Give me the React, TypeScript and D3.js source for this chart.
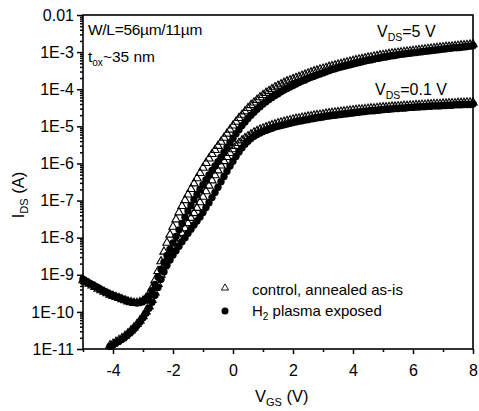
import React, { useEffect, useRef } from "react";
import * as d3 from "d3";

// gate sweep (V)
const vgsStart5V = -5.0;
const vgsStart01V = -4.1;
const vgsStep = 0.1;

// log10(I_DS / A), V_DS = 5 V, control annealed as-is (triangles)
const ctrl5V = [
  -9.15, -9.20, -9.24, -9.29, -9.33, -9.38, -9.42, -9.46, -9.50, -9.54,
  -9.57, -9.60, -9.63, -9.66, -9.69, -9.72, -9.74, -9.76, -9.76, -9.74,
  -9.70, -9.63, -9.52, -9.36, -9.15, -8.90, -8.64, -8.38, -8.14, -7.92,
  -7.71, -7.51, -7.32, -7.15, -6.99, -6.84, -6.69, -6.54, -6.40, -6.26,
  -6.12, -5.99, -5.87, -5.75, -5.64, -5.53, -5.42, -5.31, -5.20, -5.09,
  -4.98, -4.88, -4.78, -4.69, -4.60, -4.51, -4.43, -4.36, -4.29, -4.22,
  -4.16, -4.10, -4.05, -4.00, -3.95, -3.91, -3.87, -3.83, -3.79, -3.76,
  -3.73, -3.70, -3.67, -3.64, -3.61, -3.58, -3.55, -3.52, -3.50, -3.47,
  -3.45, -3.43, -3.40, -3.38, -3.36, -3.34, -3.32, -3.30, -3.28, -3.26,
  -3.24, -3.22, -3.20, -3.19, -3.17, -3.15, -3.14, -3.12, -3.11, -3.09,
  -3.08, -3.07, -3.05, -3.04, -3.03, -3.02, -3.01, -3.00, -2.99, -2.98,
  -2.97, -2.96, -2.95, -2.94, -2.93, -2.92, -2.91, -2.90, -2.89, -2.88,
  -2.87, -2.86, -2.86, -2.85, -2.84, -2.83, -2.82, -2.82, -2.81, -2.80,
  -2.79,
];

// V_DS = 5 V, H2 plasma exposed (circles)
const h2_5V = [
  -9.12, -9.17, -9.22, -9.26, -9.31, -9.35, -9.40, -9.44, -9.48, -9.52,
  -9.56, -9.59, -9.62, -9.65, -9.68, -9.71, -9.73, -9.75, -9.76, -9.75,
  -9.72, -9.66, -9.57, -9.43, -9.26, -9.06, -8.85, -8.66, -8.48, -8.31,
  -8.14, -7.97, -7.79, -7.62, -7.45, -7.28, -7.13, -6.98, -6.84, -6.70,
  -6.57, -6.44, -6.31, -6.19, -6.07, -5.95, -5.83, -5.70, -5.57, -5.44,
  -5.32, -5.20, -5.09, -4.98, -4.88, -4.79, -4.70, -4.62, -4.54, -4.47,
  -4.40, -4.34, -4.28, -4.22, -4.17, -4.12, -4.07, -4.02, -3.98, -3.94,
  -3.90, -3.86, -3.82, -3.78, -3.75, -3.71, -3.68, -3.65, -3.62, -3.59,
  -3.56, -3.53, -3.50, -3.47, -3.45, -3.42, -3.40, -3.38, -3.36, -3.34,
  -3.32, -3.30, -3.28, -3.26, -3.24, -3.22, -3.21, -3.19, -3.17, -3.16,
  -3.14, -3.13, -3.11, -3.10, -3.09, -3.07, -3.06, -3.05, -3.04, -3.03,
  -3.02, -3.01, -3.00, -2.99, -2.98, -2.97, -2.96, -2.95, -2.94, -2.93,
  -2.92, -2.91, -2.90, -2.89, -2.88, -2.88, -2.87, -2.86, -2.85, -2.84,
  -2.83,
];

// V_DS = 0.1 V, control (triangles), from -4.1 V
const ctrl01V = [
  -10.90,
  -10.86, -10.81, -10.76, -10.71, -10.65, -10.58, -10.50, -10.42, -10.33, -10.23,
  -10.12, -9.99, -9.85, -9.68, -9.48, -9.25, -9.00, -8.77, -8.58, -8.43,
  -8.29, -8.15, -8.02, -7.88, -7.75, -7.61, -7.47, -7.34, -7.20, -7.05,
  -6.90, -6.75, -6.60, -6.46, -6.32, -6.19, -6.06, -5.94, -5.83, -5.72,
  -5.62, -5.53, -5.45, -5.38, -5.32, -5.27, -5.22, -5.17, -5.13, -5.09,
  -5.06, -5.03, -5.00, -4.97, -4.95, -4.92, -4.90, -4.88, -4.86, -4.84,
  -4.82, -4.80, -4.79, -4.77, -4.76, -4.74, -4.73, -4.71, -4.70, -4.69,
  -4.68, -4.66, -4.65, -4.64, -4.63, -4.62, -4.61, -4.60, -4.59, -4.58,
  -4.57, -4.56, -4.55, -4.55, -4.54, -4.53, -4.52, -4.52, -4.51, -4.50,
  -4.49, -4.49, -4.48, -4.47, -4.47, -4.46, -4.46, -4.45, -4.45, -4.44,
  -4.44, -4.43, -4.43, -4.42, -4.42, -4.41, -4.41, -4.40, -4.40, -4.40,
  -4.39, -4.39, -4.38, -4.38, -4.38, -4.37, -4.37, -4.37, -4.36, -4.36,
  -4.36,
];

// V_DS = 0.1 V, H2 plasma exposed (circles), from -4.1 V
const h2_01V = [
  -10.93,
  -10.89, -10.84, -10.79, -10.74, -10.68, -10.61, -10.54, -10.46, -10.37, -10.27,
  -10.16, -10.04, -9.90, -9.74, -9.55, -9.34, -9.12, -8.92, -8.74, -8.60,
  -8.47, -8.35, -8.23, -8.11, -8.00, -7.88, -7.77, -7.66, -7.55, -7.44,
  -7.32, -7.19, -7.06, -6.92, -6.78, -6.64, -6.49, -6.35, -6.21, -6.07,
  -5.94, -5.81, -5.69, -5.58, -5.48, -5.40, -5.33, -5.27, -5.22, -5.18,
  -5.14, -5.11, -5.08, -5.05, -5.02, -5.00, -4.98, -4.96, -4.94, -4.92,
  -4.90, -4.88, -4.86, -4.85, -4.83, -4.82, -4.80, -4.79, -4.77, -4.76,
  -4.75, -4.73, -4.72, -4.71, -4.70, -4.69, -4.68, -4.67, -4.66, -4.65,
  -4.64, -4.63, -4.62, -4.61, -4.60, -4.59, -4.58, -4.58, -4.57, -4.56,
  -4.55, -4.54, -4.54, -4.53, -4.52, -4.52, -4.51, -4.51, -4.50, -4.49,
  -4.49, -4.48, -4.48, -4.47, -4.47, -4.46, -4.46, -4.45, -4.45, -4.45,
  -4.44, -4.44, -4.43, -4.43, -4.42, -4.42, -4.42, -4.41, -4.41, -4.41,
  -4.40,
];

const xMajorTicks = [-4, -2, 0, 2, 4, 6, 8];
const xMinorTicks = [-5, -3, -1, 1, 3, 5, 7];
const yTickExps = [-2, -3, -4, -5, -6, -7, -8, -9, -10, -11];
const yTickLabels = ["0.01", "1E-3", "1E-4", "1E-5", "1E-6", "1E-7", "1E-8", "1E-9", "1E-10", "1E-11"];
const legendLabels = ["control, annealed as-is", "H2 plasma exposed"];

const FONT = "'Liberation Sans', Arial, sans-serif";

const toPoints = (start: number, vals: number[]) =>
  vals.map((v, i) => ({ vgs: +(start + i * vgsStep).toFixed(2), ids: Math.pow(10, v) }));

export default function App() {
  const gRef = useRef<SVGGElement>(null);

  useEffect(() => {
    const g = d3.select(gRef.current);
    g.selectAll("*").remove();

    const left = 83, right = 473, top = 15, bottom = 349;

    const x = d3.scaleLinear().domain([-5, 8]).range([left, right]);
    const y = d3.scaleLog().domain([1e-11, 1e-2]).range([bottom, top]);

    // minor x ticks
    g.append("g")
      .attr("transform", `translate(0,${bottom})`)
      .call(d3.axisBottom(x).tickValues(xMinorTicks).tickSize(3).tickSizeOuter(0).tickFormat(() => ""))
      .call(a => a.select(".domain").remove());

    // major x ticks
    const xa = g.append("g")
      .attr("transform", `translate(0,${bottom})`)
      .call(d3.axisBottom(x).tickValues(xMajorTicks).tickSize(5).tickPadding(11).tickSizeOuter(0).tickFormat(d => String(d)));
    xa.select(".domain").remove();
    xa.selectAll("text").attr("font-size", 16).attr("font-family", FONT).attr("fill", "#000");

    // minor y ticks
    const minorY: number[] = [];
    yTickExps.slice(1).forEach(e => {
      for (let k = 2; k <= 9; k++) minorY.push(k * Math.pow(10, e));
    });
    g.append("g")
      .attr("transform", `translate(${left},0)`)
      .call(d3.axisLeft(y).tickValues(minorY).tickSize(3).tickSizeOuter(0).tickFormat(() => ""))
      .call(a => a.select(".domain").remove());

    // major y ticks
    const ya = g.append("g")
      .attr("transform", `translate(${left},0)`)
      .call(
        d3.axisLeft(y)
          .tickValues(yTickExps.map(e => Math.pow(10, e)))
          .tickSize(6)
          .tickPadding(3)
          .tickSizeOuter(0)
          .tickFormat((d, i) => yTickLabels[i])
      );
    ya.select(".domain").remove();
    ya.selectAll("text").attr("font-size", 16).attr("font-family", FONT).attr("fill", "#000");
    g.selectAll(".tick line").attr("stroke", "#000").attr("stroke-width", 1.5);

    // frame
    g.append("rect")
      .attr("x", left).attr("y", top)
      .attr("width", right - left).attr("height", bottom - top)
      .attr("fill", "none").attr("stroke", "#000").attr("stroke-width", 1.6);

    const tri = d3.symbol().type(d3.symbolTriangle).size(30);

    const drawTri = (pts: { vgs: number; ids: number }[]) =>
      g.append("g").selectAll("path").data(pts).enter().append("path")
        .attr("d", tri as any)
        .attr("transform", d => `translate(${x(d.vgs)},${y(d.ids)})`)
        .attr("fill", "none").attr("stroke", "#000").attr("stroke-width", 1.1);

    const drawCirc = (pts: { vgs: number; ids: number }[]) =>
      g.append("g").selectAll("circle").data(pts).enter().append("circle")
        .attr("cx", d => x(d.vgs)).attr("cy", d => y(d.ids))
        .attr("r", 3.7).attr("fill", "#000");

    drawTri(toPoints(vgsStart5V, ctrl5V));
    drawTri(toPoints(vgsStart01V, ctrl01V));
    drawCirc(toPoints(vgsStart5V, h2_5V));
    drawCirc(toPoints(vgsStart01V, h2_01V));

    // legend markers
    g.append("path").attr("d", d3.symbol().type(d3.symbolTriangle).size(22) as any).attr("transform", "translate(225,288)")
      .attr("fill", "none").attr("stroke", "#000").attr("stroke-width", 0.9);
    g.append("circle").attr("cx", 225).attr("cy", 311).attr("r", 3.5).attr("fill", "#000");
  }, []);

  return (
    <svg width={479} height={411} style={{ position: "absolute", left: 0, top: 0, background: "#fff" }}
      fontFamily={FONT} fill="#000">
      <g ref={gRef} />
      <text x={88} y={35} fontSize={15.5} letterSpacing={-0.3}>W/L=56µm/11µm</text>
      <text x={88} y={62} fontSize={15.5}>t<tspan dy={4} fontSize={10}>ox</tspan><tspan dy={-4}>~35 nm</tspan></text>
      <text x={377} y={37} fontSize={16}>V<tspan dy={4} fontSize={10.5}>DS</tspan><tspan dy={-4}>=5 V</tspan></text>
      <text x={375} y={95} fontSize={16}>V<tspan dy={4} fontSize={10.5}>DS</tspan><tspan dy={-4}>=0.1 V</tspan></text>
      <text x={252} y={295} fontSize={15}>{legendLabels[0]}</text>
      <text x={252} y={316} fontSize={15}>H<tspan dy={4} fontSize={10}>2</tspan><tspan dy={-4}>{legendLabels[1].slice(2)}</tspan></text>
      <text x={255} y={402} fontSize={16.5}>V<tspan dy={4} fontSize={11}>GS</tspan><tspan dy={-4}> (V)</tspan></text>
      <text transform="translate(24,195) rotate(-90)" textAnchor="middle" fontSize={16.5}>I<tspan dy={4} fontSize={11}>DS</tspan><tspan dy={-4}> (A)</tspan></text>
    </svg>
  );
}
